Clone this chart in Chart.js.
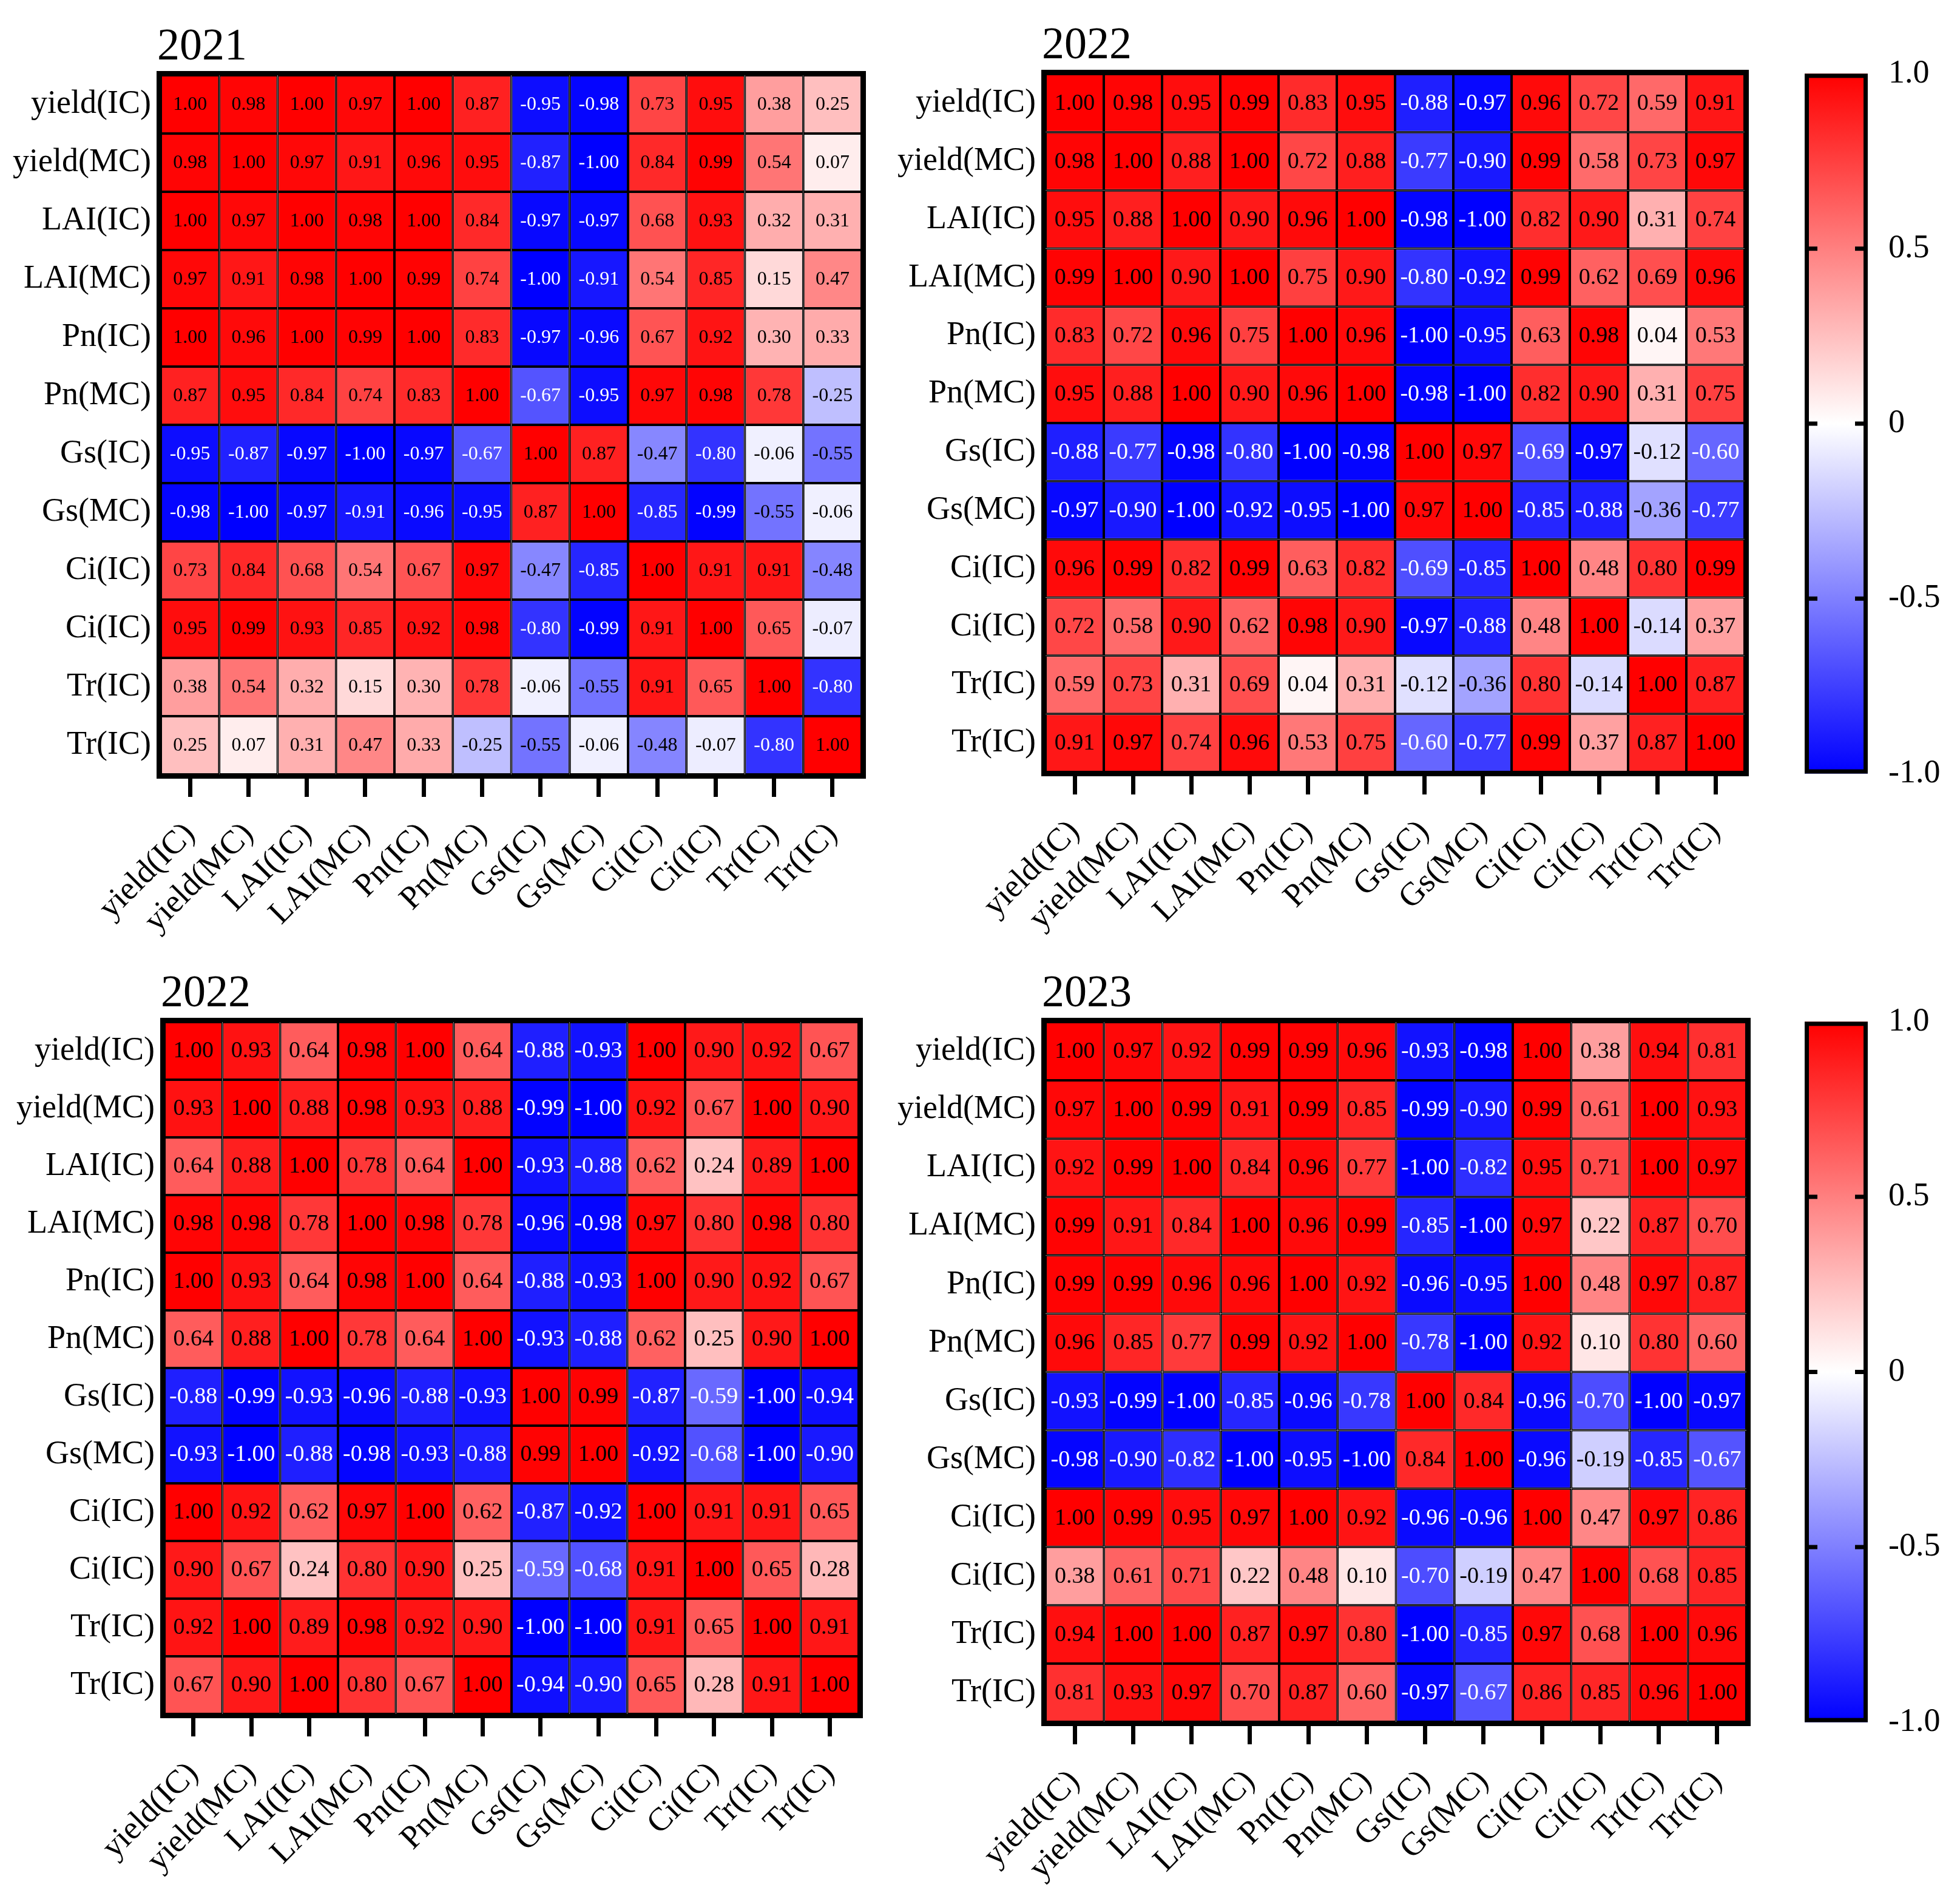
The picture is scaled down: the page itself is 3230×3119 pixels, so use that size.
<!DOCTYPE html>
<html>
<head>
<meta charset="utf-8">
<script src="https://cdn.jsdelivr.net/npm/chart.js@4.4.1/dist/chart.umd.min.js"></script>
<style>
  html, body { margin: 0; padding: 0; background: #fff; }
  body { width: 3230px; height: 3119px; position: relative; overflow: hidden; }
  canvas { position: absolute; }
</style>
</head>
<body>
<script>
// row / column names (same order on both axes)
const labels = ['yield(IC)', 'yield(MC)', 'LAI(IC)', 'LAI(MC)', 'Pn(IC)', 'Pn(MC)', 'Gs(IC)', 'Gs(MC)', 'Ci(IC)', 'Ci(IC)', 'Tr(IC)', 'Tr(IC)'];

const corr2021 = [
  [1.00, 0.98, 1.00, 0.97, 1.00, 0.87, -0.95, -0.98, 0.73, 0.95, 0.38, 0.25],
  [0.98, 1.00, 0.97, 0.91, 0.96, 0.95, -0.87, -1.00, 0.84, 0.99, 0.54, 0.07],
  [1.00, 0.97, 1.00, 0.98, 1.00, 0.84, -0.97, -0.97, 0.68, 0.93, 0.32, 0.31],
  [0.97, 0.91, 0.98, 1.00, 0.99, 0.74, -1.00, -0.91, 0.54, 0.85, 0.15, 0.47],
  [1.00, 0.96, 1.00, 0.99, 1.00, 0.83, -0.97, -0.96, 0.67, 0.92, 0.30, 0.33],
  [0.87, 0.95, 0.84, 0.74, 0.83, 1.00, -0.67, -0.95, 0.97, 0.98, 0.78, -0.25],
  [-0.95, -0.87, -0.97, -1.00, -0.97, -0.67, 1.00, 0.87, -0.47, -0.80, -0.06, -0.55],
  [-0.98, -1.00, -0.97, -0.91, -0.96, -0.95, 0.87, 1.00, -0.85, -0.99, -0.55, -0.06],
  [0.73, 0.84, 0.68, 0.54, 0.67, 0.97, -0.47, -0.85, 1.00, 0.91, 0.91, -0.48],
  [0.95, 0.99, 0.93, 0.85, 0.92, 0.98, -0.80, -0.99, 0.91, 1.00, 0.65, -0.07],
  [0.38, 0.54, 0.32, 0.15, 0.30, 0.78, -0.06, -0.55, 0.91, 0.65, 1.00, -0.80],
  [0.25, 0.07, 0.31, 0.47, 0.33, -0.25, -0.55, -0.06, -0.48, -0.07, -0.80, 1.00]
];

const corr2022a = [
  [1.00, 0.98, 0.95, 0.99, 0.83, 0.95, -0.88, -0.97, 0.96, 0.72, 0.59, 0.91],
  [0.98, 1.00, 0.88, 1.00, 0.72, 0.88, -0.77, -0.90, 0.99, 0.58, 0.73, 0.97],
  [0.95, 0.88, 1.00, 0.90, 0.96, 1.00, -0.98, -1.00, 0.82, 0.90, 0.31, 0.74],
  [0.99, 1.00, 0.90, 1.00, 0.75, 0.90, -0.80, -0.92, 0.99, 0.62, 0.69, 0.96],
  [0.83, 0.72, 0.96, 0.75, 1.00, 0.96, -1.00, -0.95, 0.63, 0.98, 0.04, 0.53],
  [0.95, 0.88, 1.00, 0.90, 0.96, 1.00, -0.98, -1.00, 0.82, 0.90, 0.31, 0.75],
  [-0.88, -0.77, -0.98, -0.80, -1.00, -0.98, 1.00, 0.97, -0.69, -0.97, -0.12, -0.60],
  [-0.97, -0.90, -1.00, -0.92, -0.95, -1.00, 0.97, 1.00, -0.85, -0.88, -0.36, -0.77],
  [0.96, 0.99, 0.82, 0.99, 0.63, 0.82, -0.69, -0.85, 1.00, 0.48, 0.80, 0.99],
  [0.72, 0.58, 0.90, 0.62, 0.98, 0.90, -0.97, -0.88, 0.48, 1.00, -0.14, 0.37],
  [0.59, 0.73, 0.31, 0.69, 0.04, 0.31, -0.12, -0.36, 0.80, -0.14, 1.00, 0.87],
  [0.91, 0.97, 0.74, 0.96, 0.53, 0.75, -0.60, -0.77, 0.99, 0.37, 0.87, 1.00]
];

const corr2022b = [
  [1.00, 0.93, 0.64, 0.98, 1.00, 0.64, -0.88, -0.93, 1.00, 0.90, 0.92, 0.67],
  [0.93, 1.00, 0.88, 0.98, 0.93, 0.88, -0.99, -1.00, 0.92, 0.67, 1.00, 0.90],
  [0.64, 0.88, 1.00, 0.78, 0.64, 1.00, -0.93, -0.88, 0.62, 0.24, 0.89, 1.00],
  [0.98, 0.98, 0.78, 1.00, 0.98, 0.78, -0.96, -0.98, 0.97, 0.80, 0.98, 0.80],
  [1.00, 0.93, 0.64, 0.98, 1.00, 0.64, -0.88, -0.93, 1.00, 0.90, 0.92, 0.67],
  [0.64, 0.88, 1.00, 0.78, 0.64, 1.00, -0.93, -0.88, 0.62, 0.25, 0.90, 1.00],
  [-0.88, -0.99, -0.93, -0.96, -0.88, -0.93, 1.00, 0.99, -0.87, -0.59, -1.00, -0.94],
  [-0.93, -1.00, -0.88, -0.98, -0.93, -0.88, 0.99, 1.00, -0.92, -0.68, -1.00, -0.90],
  [1.00, 0.92, 0.62, 0.97, 1.00, 0.62, -0.87, -0.92, 1.00, 0.91, 0.91, 0.65],
  [0.90, 0.67, 0.24, 0.80, 0.90, 0.25, -0.59, -0.68, 0.91, 1.00, 0.65, 0.28],
  [0.92, 1.00, 0.89, 0.98, 0.92, 0.90, -1.00, -1.00, 0.91, 0.65, 1.00, 0.91],
  [0.67, 0.90, 1.00, 0.80, 0.67, 1.00, -0.94, -0.90, 0.65, 0.28, 0.91, 1.00]
];

const corr2023 = [
  [1.00, 0.97, 0.92, 0.99, 0.99, 0.96, -0.93, -0.98, 1.00, 0.38, 0.94, 0.81],
  [0.97, 1.00, 0.99, 0.91, 0.99, 0.85, -0.99, -0.90, 0.99, 0.61, 1.00, 0.93],
  [0.92, 0.99, 1.00, 0.84, 0.96, 0.77, -1.00, -0.82, 0.95, 0.71, 1.00, 0.97],
  [0.99, 0.91, 0.84, 1.00, 0.96, 0.99, -0.85, -1.00, 0.97, 0.22, 0.87, 0.70],
  [0.99, 0.99, 0.96, 0.96, 1.00, 0.92, -0.96, -0.95, 1.00, 0.48, 0.97, 0.87],
  [0.96, 0.85, 0.77, 0.99, 0.92, 1.00, -0.78, -1.00, 0.92, 0.10, 0.80, 0.60],
  [-0.93, -0.99, -1.00, -0.85, -0.96, -0.78, 1.00, 0.84, -0.96, -0.70, -1.00, -0.97],
  [-0.98, -0.90, -0.82, -1.00, -0.95, -1.00, 0.84, 1.00, -0.96, -0.19, -0.85, -0.67],
  [1.00, 0.99, 0.95, 0.97, 1.00, 0.92, -0.96, -0.96, 1.00, 0.47, 0.97, 0.86],
  [0.38, 0.61, 0.71, 0.22, 0.48, 0.10, -0.70, -0.19, 0.47, 1.00, 0.68, 0.85],
  [0.94, 1.00, 1.00, 0.87, 0.97, 0.80, -1.00, -0.85, 0.97, 0.68, 1.00, 0.96],
  [0.81, 0.93, 0.97, 0.70, 0.87, 0.60, -0.97, -0.67, 0.86, 0.85, 0.96, 1.00]
];

// colour scale range
const scaleMin = -1;
const scaleMax = 1;

const SERIF = '"Liberation Serif", "Times New Roman", Times, serif';
Chart.defaults.color = '#000';

function cellColor(v) {
  if (v >= 0) {
    const k = Math.round(255 * (1 - v));
    return `rgb(255,${k},${k})`;
  }
  const k = Math.round(255 * (1 + v));
  return `rgb(${k},${k},255)`;
}

function addCanvas(left, top, w, h) {
  const c = document.createElement('canvas');
  c.width = w; c.height = h;
  c.style.left = left + 'px'; c.style.top = top + 'px';
  c.style.width = w + 'px'; c.style.height = h + 'px';
  document.body.appendChild(c);
  return c;
}

const YW = 250, XH = 300;

// area = inner plot box in page pixels
function heatmap(title, matrix, area, valueSize) {
  const n = labels.length;
  const cl = area.l - 270, ct = area.t - 124;
  const cw = area.r + 40 - cl, ch = area.b + 330 - ct;
  const canvas = addCanvas(cl, ct, cw, ch);

  const datasets = matrix.map((row, r) => ({
    data: row.map(() => [n - 1 - r, n - r]),
    backgroundColor: row.map(cellColor)
  }));

  const cellText = {
    id: 'cellText',
    afterDatasetsDraw(chart) {
      const ctx = chart.ctx;
      const a = chart.chartArea;
      ctx.save();
      ctx.font = `${valueSize}px ${SERIF}`;
      ctx.textAlign = 'center';
      ctx.textBaseline = 'middle';
      matrix.forEach((row, r) => {
        chart.getDatasetMeta(r).data.forEach((bar, c) => {
          const v = row[c];
          ctx.fillStyle = v < -0.57 ? '#fff' : '#000';
          ctx.fillText(v.toFixed(2), bar.x, (bar.y + bar.base) / 2 + 1);
        });
      });
      ctx.lineWidth = 7;
      ctx.strokeStyle = '#000';
      ctx.strokeRect(a.left - 3.5, a.top - 3.5, a.width + 7, a.height + 7);
      ctx.font = `74px ${SERIF}`;
      ctx.textAlign = 'left';
      ctx.textBaseline = 'alphabetic';
      ctx.fillStyle = '#000';
      ctx.fillText(title, a.left - 6, a.top - 26);
      ctx.restore();
    }
  };

  new Chart(canvas, {
    type: 'bar',
    data: { labels, datasets },
    options: {
      responsive: false,
      animation: false,
      devicePixelRatio: 1,
      layout: { padding: { left: 270 - YW, top: 124, right: 40, bottom: 330 - XH } },
      plugins: { legend: { display: false }, tooltip: { enabled: false } },
      datasets: {
        bar: {
          grouped: false, barPercentage: 1, categoryPercentage: 1,
          borderColor: '#000', borderWidth: 2, borderSkipped: false, inflateAmount: 0
        }
      },
      scales: {
        x: {
          type: 'category',
          offset: true,
          grid: { display: true, drawOnChartArea: false, offset: false, drawTicks: true,
                  tickLength: 37, lineWidth: 7, tickWidth: 7, tickColor: '#000', color: '#000' },
          border: { display: false },
          ticks: { autoSkip: false, minRotation: 45, maxRotation: 45, padding: 30,
                   color: '#000', font: { family: SERIF, size: 54 } },
          afterFit: s => { s.height = XH; }
        },
        y: {
          type: 'linear', min: 0, max: n,
          grid: { display: false, drawTicks: false },
          border: { display: false },
          afterBuildTicks: s => { s.ticks = labels.map((_, i) => ({ value: i + 0.5 })); },
          ticks: { autoSkip: false, padding: 16, color: '#000', font: { family: SERIF, size: 54 },
                   callback: (v, i) => labels[n - 1 - i] },
          afterFit: s => { s.width = YW; }
        }
      }
    },
    plugins: [cellText]
  });
}

const CBW = 150;
// area = outer colour bar box in page pixels
function colorbar(area) {
  const cl = area.l - 60, ct = area.t - 60;
  const cw = 3230 - cl, ch = area.b + 60 - ct;
  const canvas = addCanvas(cl, ct, cw, ch);

  const frame = {
    id: 'cbFrame',
    afterDatasetsDraw(chart) {
      const ctx = chart.ctx;
      const a = chart.chartArea;
      const y = chart.scales.y;
      ctx.save();
      ctx.fillStyle = '#000';
      y.ticks.forEach(t => {
        if (t.value <= scaleMin || t.value >= scaleMax) return;
        const py = y.getPixelForValue(t.value);
        ctx.fillRect(a.left, py - 3.5, 21, 7);
        ctx.fillRect(a.right - 21, py - 3.5, 21, 7);
      });
      ctx.lineWidth = 7;
      ctx.strokeStyle = '#000';
      ctx.strokeRect(a.left + 3.5, a.top + 3.5, a.width - 7, a.height - 7);
      ctx.restore();
    }
  };

  new Chart(canvas, {
    type: 'bar',
    data: {
      labels: [''],
      datasets: [{
        data: [[scaleMin, scaleMax]],
        borderWidth: 0,
        barPercentage: 1, categoryPercentage: 1,
        backgroundColor: c => {
          const ch2 = c.chart;
          if (!ch2.chartArea) return '#fff';
          const y = ch2.scales.y;
          const g = ch2.ctx.createLinearGradient(0, y.getPixelForValue(scaleMax), 0, y.getPixelForValue(scaleMin));
          g.addColorStop(0, cellColor(scaleMax));
          g.addColorStop(0.5, cellColor(0));
          g.addColorStop(1, cellColor(scaleMin));
          return g;
        }
      }]
    },
    options: {
      responsive: false,
      animation: false,
      devicePixelRatio: 1,
      layout: { padding: { left: 60, top: 60, right: cw - 60 - (area.r - area.l) - CBW, bottom: 60 } },
      plugins: { legend: { display: false }, tooltip: { enabled: false } },
      scales: {
        x: { display: false },
        y: {
          position: 'right', min: scaleMin, max: scaleMax,
          grid: { display: false, drawTicks: false },
          border: { display: false },
          ticks: { stepSize: 0.5, padding: 34, color: '#000', font: { family: SERIF, size: 54 },
                   callback: v => (v === 0 ? '0' : v.toFixed(1)) },
          afterFit: s => { s.width = CBW; }
        }
      }
    },
    plugins: [frame]
  });
}

heatmap('2021', corr2021, { l: 265, r: 1420, t: 124, b: 1276 }, 32);
heatmap('2022', corr2022a, { l: 1723, r: 2875, t: 122, b: 1272 }, 38);
heatmap('2022', corr2022b, { l: 271, r: 1415, t: 1684, b: 2824 }, 38);
heatmap('2023', corr2023, { l: 1723, r: 2878, t: 1684, b: 2837 }, 38);
colorbar({ l: 2974, r: 3078, t: 115, b: 1281 });
colorbar({ l: 2974, r: 3078, t: 1677, b: 2844 });
</script>
</body>
</html>
